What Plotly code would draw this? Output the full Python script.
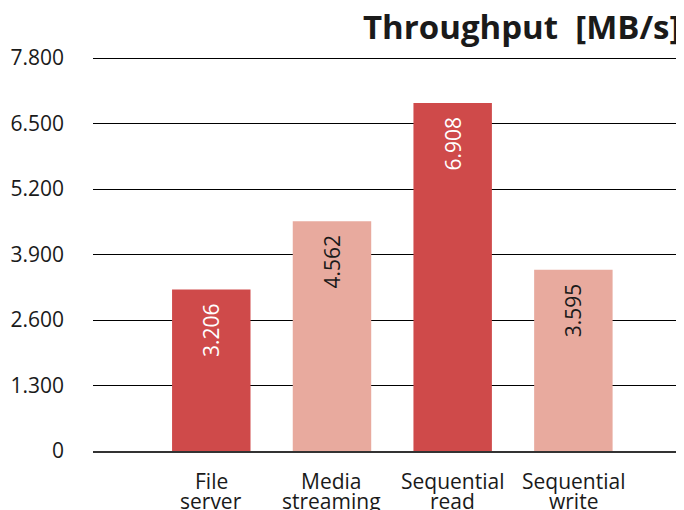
import plotly.graph_objects as go

categories = ["File server", "Media streaming", "Sequential read", "Sequential write"]
throughput = [3206, 4562, 6908, 3595]
bar_colors = ["#CF4A4A", "#E8AA9E", "#CF4A4A", "#E8AA9E"]
label_colors = ["#FFFFFF", "#1A1A1A", "#FFFFFF", "#1A1A1A"]
tick_vals = [0, 1300, 2600, 3900, 5200, 6500, 7800]

fig = go.Figure(go.Bar(
    x=categories,
    y=throughput,
    marker=dict(color=bar_colors, line=dict(width=0)),
    width=0.65,
    texttemplate="%{y:,d}\u00a0\u00a0",
    textposition="inside",
    insidetextanchor="end",
    textangle=-90,
    textfont=dict(family="Open Sans", size=21, color=label_colors),
))

# category labels as two tightly spaced lines
annotations = []
for cat in categories:
    first, second = cat.split(" ", 1)
    for line, shift in ((first, -14), (second, -34)):
        annotations.append(dict(
            text=line, x=cat, xref="x", y=0, yref="paper",
            xanchor="center", yanchor="top", yshift=shift, showarrow=False,
            font=dict(family="Open Sans", size=21, color="#1A1A1A"),
        ))

annotations.append(dict(
    text="<b>Throughput  [MB/s]</b>", xref="paper", yref="paper",
    x=1, y=1, xanchor="right", yanchor="bottom", yshift=6, showarrow=False,
    font=dict(family="Open Sans", size=33, color="#1A1A1A"),
))

fig.update_layout(
    width=676, height=502,
    margin=dict(l=85, r=2, t=49, b=59),
    paper_bgcolor="white", plot_bgcolor="white",
    separators=",.",
    showlegend=False,
    font=dict(family="Open Sans", color="#1A1A1A"),
    xaxis=dict(
        range=[-0.98, 3.9], automargin=False, showticklabels=False,
        showgrid=False, showline=True, linecolor="#333333", linewidth=2,
        ticks="",
    ),
    yaxis=dict(
        range=[0, 7820], tickvals=tick_vals, tickformat=",d", automargin=False,
        showgrid=True, gridcolor="#000000", gridwidth=1,
        zeroline=False, showline=False, ticks="",
        tickfont=dict(size=21, color="#1A1A1A"), ticklabelstandoff=28,
    ),
    annotations=annotations,
)

fig.write_html("out.html")
